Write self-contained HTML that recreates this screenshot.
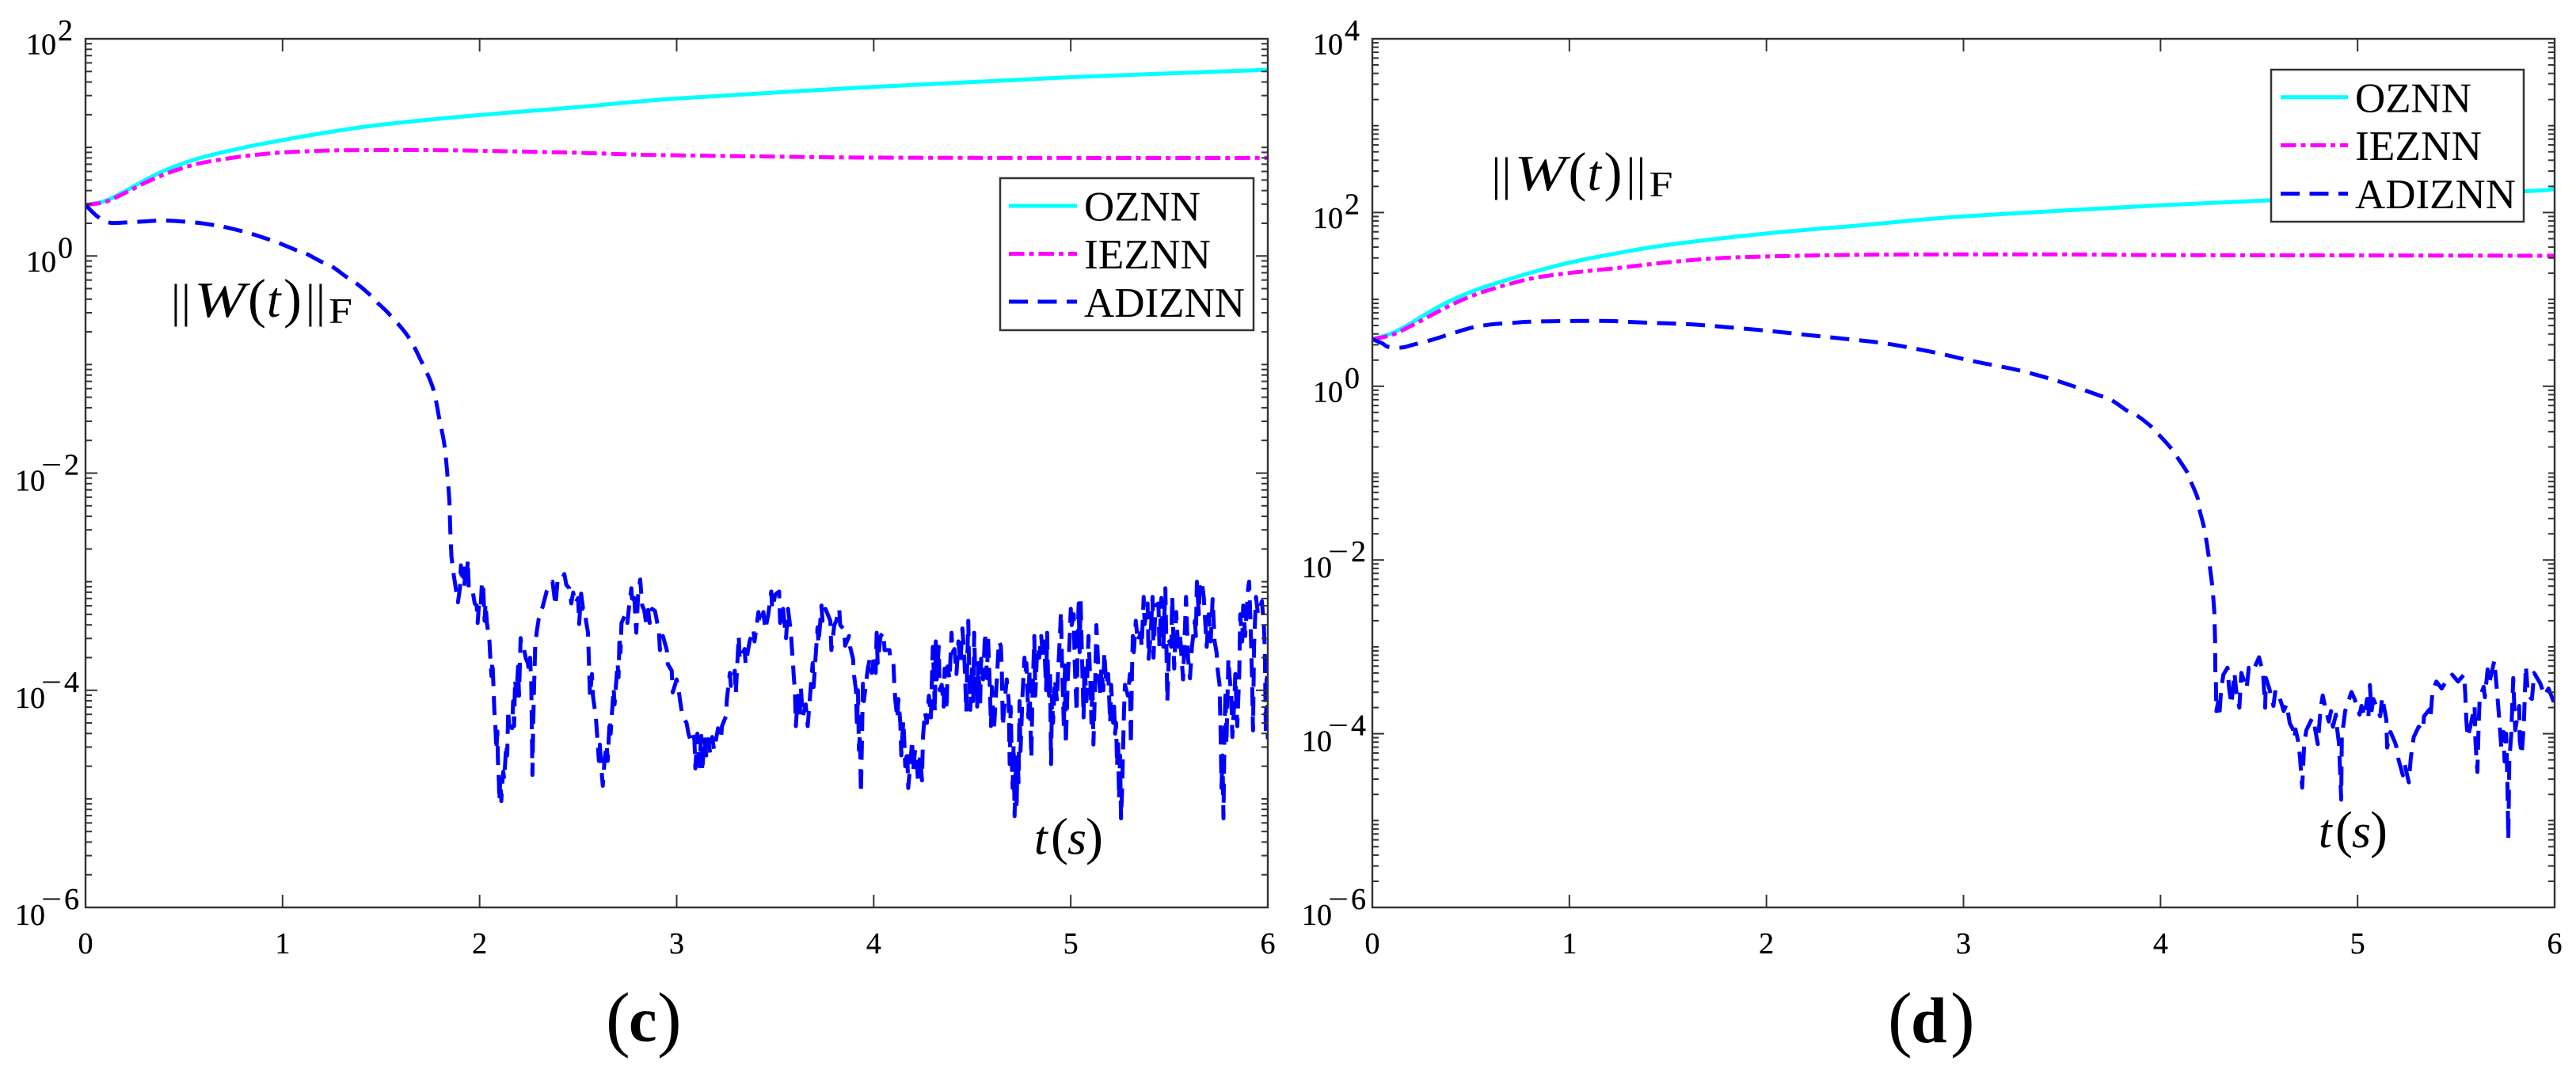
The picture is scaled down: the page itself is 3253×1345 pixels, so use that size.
<!DOCTYPE html>
<html lang="en">
<head>
<meta charset="utf-8">
<title>Frobenius norm of W(t) for OZNN, IEZNN and ADIZNN</title>
<style>
html,body{margin:0;padding:0;background:#fff;width:3253px;height:1345px;overflow:hidden}
svg{display:block}
text{font-family:"Liberation Serif","DejaVu Serif",serif;fill:#000}
.it{font-style:italic}
.leg{font-size:53px}
.box{fill:#fff;stroke:#333;stroke-width:2.5}
</style>
</head>
<body>
<svg id="figure" xmlns="http://www.w3.org/2000/svg" width="3253" height="1345" viewBox="0 0 3253 1345">
<defs>
<clipPath id="clip-c"><rect x="108" y="49" width="1493" height="1097"/></clipPath>
<clipPath id="clip-d"><rect x="1733" y="49" width="1493" height="1097"/></clipPath>
</defs>
<rect x="0" y="0" width="3253" height="1345" fill="#fff"/>

<g id="panel-c"></g>
<g id="panel-d"></g>

<g id="note-c">
<text x="216" y="400" font-size="59">|</text>
<text x="229" y="400" font-size="59">|</text>
<text x="245" y="400" font-size="63" class="it" textLength="65" lengthAdjust="spacingAndGlyphs">W</text>
<text x="313" y="400" font-size="69">(</text>
<text x="337" y="400" font-size="63" class="it">t</text>
<text x="358" y="400" font-size="69">)</text>
<text x="386" y="400" font-size="59">|</text>
<text x="399" y="400" font-size="59">|</text>
<text x="415" y="408" font-size="46" textLength="30" lengthAdjust="spacingAndGlyphs">F</text>
</g>
<g transform="translate(1667.5,-160)">
<text x="216" y="400" font-size="59">|</text>
<text x="229" y="400" font-size="59">|</text>
<text x="245" y="400" font-size="63" class="it" textLength="65" lengthAdjust="spacingAndGlyphs">W</text>
<text x="313" y="400" font-size="69">(</text>
<text x="337" y="400" font-size="63" class="it">t</text>
<text x="358" y="400" font-size="69">)</text>
<text x="386" y="400" font-size="59">|</text>
<text x="399" y="400" font-size="59">|</text>
<text x="415" y="408" font-size="46" textLength="30" lengthAdjust="spacingAndGlyphs">F</text>
</g>

<g>
<text x="1306" y="1078.5" font-size="60" class="it">t</text>
<text x="1327" y="1078.5" font-size="66">(</text>
<text x="1348" y="1078.5" font-size="60" class="it" textLength="24" lengthAdjust="spacingAndGlyphs">s</text>
<text x="1371" y="1078.5" font-size="66">)</text>
</g>
<g transform="translate(1622,-8.5)">
<text x="1306" y="1078.5" font-size="60" class="it">t</text>
<text x="1327" y="1078.5" font-size="66">(</text>
<text x="1348" y="1078.5" font-size="60" class="it" textLength="24" lengthAdjust="spacingAndGlyphs">s</text>
<text x="1371" y="1078.5" font-size="66">)</text>
</g>

<g>
<rect class="box" x="1263" y="225" width="320" height="192"/>
<g>
<line x1="1274" y1="260" x2="1360" y2="260" stroke="#00ffff" stroke-width="5"/>
<text class="leg" x="1369" y="278.4" textLength="147" lengthAdjust="spacingAndGlyphs">OZNN</text>
</g>
<g>
<line x1="1274" y1="320.5" x2="1360" y2="320.5" stroke="#ff00ff" stroke-width="5" stroke-dasharray="19.5 6 6 6"/>
<text class="leg" x="1369" y="339" textLength="160" lengthAdjust="spacingAndGlyphs">IEZNN</text>
</g>
<g>
<line x1="1274" y1="381" x2="1360" y2="381" stroke="#0000ff" stroke-width="5" stroke-dasharray="24 12.5"/>
<text class="leg" x="1369" y="400" textLength="203" lengthAdjust="spacingAndGlyphs">ADIZNN</text>
</g>
</g>

<g>
<rect class="box" x="2868" y="88" width="319" height="192"/>
<g>
<line x1="2880" y1="122.7" x2="2965" y2="122.7" stroke="#00ffff" stroke-width="5"/>
<text class="leg" x="2974" y="141.4" textLength="147" lengthAdjust="spacingAndGlyphs">OZNN</text>
</g>
<g>
<line x1="2880" y1="183.4" x2="2965" y2="183.4" stroke="#ff00ff" stroke-width="5" stroke-dasharray="19.5 6 6 6"/>
<text class="leg" x="2974" y="202" textLength="160" lengthAdjust="spacingAndGlyphs">IEZNN</text>
</g>
<g>
<line x1="2880" y1="244.6" x2="2965" y2="244.6" stroke="#0000ff" stroke-width="5" stroke-dasharray="24 12.5"/>
<text class="leg" x="2974" y="263" textLength="203" lengthAdjust="spacingAndGlyphs">ADIZNN</text>
</g>
</g>

<g>
<text x="765" y="1317" font-size="92">(</text>
<text x="794" y="1315" font-size="80" font-weight="bold">c</text>
<text x="830" y="1317" font-size="92">)</text>
</g>
<g>
<text x="2384" y="1317" font-size="92">(</text>
<text x="2413" y="1316" font-size="82" font-weight="bold">d</text>
<text x="2463" y="1317" font-size="92">)</text>
</g>
</svg>

<script>
// Values are [t in seconds, log10 of the norm].
const xTickValues = [0, 1, 2, 3, 4, 5, 6];
const yExponentsC = [2, 0, -2, -4, -6];
const yExponentsD = [4, 2, 0, -2, -4, -6];

const oznnC = [[0,.469],[.1,.507],[.2,.596],[.3,.697],[.4,.786],[.5,.855],[.6,.912],[.8,.997],[1,1.067],[1.25,1.145],[1.5,1.209],[2,1.298],[2.5,1.371],[3,1.45],[4,1.557],[5,1.646],[6,1.715]];
const ieznnC = [[0,.469],[.1,.498],[.2,.58],[.3,.672],[.4,.751],[.5,.814],[.6,.861],[.8,.918],[1,.953],[1.25,.972],[1.5,.975],[1.75,.975],[2,.969],[2.5,.95],[2.86,.931],[3.5,.915],[4,.906],[5,.903],[6,.903]];
const adiznnC = [[0,.469],[.06,.365],[.12,.308],[.2,.308],[.3,.318],[.4,.327],[.555,.308],[.645,.286],[.697,.27],[.786,.232],[.838,.207],[.929,.153],[.979,.121],[1.063,.058],[1.118,.023],[1.195,-.052],[1.248,-.094],[1.321,-.189],[1.374,-.252],[1.437,-.347],[1.479,-.426],[1.542,-.537],[1.637,-.742],[1.706,-.977],[1.763,-1.216],[1.794,-1.485],[1.821,-1.738],[1.836,-2.007],[1.847,-2.276],[1.851,-2.52],[1.857,-2.77],[1.868,-2.93],[1.879,-3.06],[1.89,-3.19],
[1.9,-3.06],[1.905,-2.85],[1.91,-3],[1.917,-2.88],[1.922,-3.05],[1.93,-2.85],[1.935,-2.96],[1.94,-2.8],[1.945,-3.06],[1.955,-3.1],[1.965,-3.09],[1.975,-3.2],[1.985,-3.22],[1.99,-3.38],[1.997,-3.2],[2.005,-3.24],[2.012,-3],[2.018,-3.05],[2.025,-3.36],[2.03,-3.2],[2.037,-3.38],[2.05,-3.55],[2.055,-3.73],[2.06,-3.87],[2.065,-3.73],[2.07,-3.95],[2.075,-4.2],[2.08,-4.33],[2.085,-4.55],[2.09,-4.38],[2.093,-4.65],[2.098,-4.85],[2.1,-5.02],[2.105,-4.82],[2.11,-5.02],[2.115,-4.85],[2.12,-4.75],[2.125,-4.82],[2.135,-4.5],[2.14,-4.6],[2.145,-4.18],[2.15,-4.33],[2.165,-4.35],[2.17,-4.1],[2.175,-4.33],[2.18,-3.9],[2.187,-4.05],[2.195,-3.78],[2.2,-4.05],[2.208,-3.52],[2.213,-3.62],[2.225,-3.62],[2.235,-3.71],[2.245,-3.75],[2.25,-3.82],[2.256,-3.7],[2.262,-3.93],[2.268,-4.78],[2.272,-4.3],[2.276,-4],[2.282,-3.6],[2.29,-3.46],[2.3,-3.34],[2.32,-3.23],[2.34,-3.09],[2.37,-3],[2.385,-3.22],[2.395,-3],[2.41,-3.01],[2.43,-2.93],[2.44,-3.03],[2.455,-3.06],[2.465,-3.2],[2.475,-3.1],[2.485,-3.2],[2.5,-3.15],[2.505,-3.39],[2.515,-3.11],[2.525,-3.25],[2.535,-3.25],
[2.54,-3.36],[2.55,-3.47],[2.555,-3.75],[2.56,-4.05],[2.57,-3.85],[2.575,-4.05],[2.59,-4.25],[2.595,-4.38],[2.6,-4.5],[2.605,-4.65],[2.61,-4.5],[2.615,-4.65],[2.625,-4.88],[2.635,-4.62],[2.645,-4.5],[2.65,-4.65],[2.66,-4.27],[2.665,-4.4],[2.68,-3.98],[2.685,-4.13],[2.7,-3.75],[2.705,-3.88],[2.71,-3.5],[2.715,-3.65],[2.72,-3.38],[2.74,-3.3],[2.75,-3.38],[2.76,-3.2],[2.77,-3.06],[2.775,-3.22],[2.785,-3.15],[2.795,-3.47],[2.805,-3.1],[2.815,-2.98],[2.825,-3.22],[2.835,-3.26],[2.845,-3.38],[2.855,-3.26],[2.863,-3.38],[2.875,-3.25],[2.89,-3.27],[2.91,-3.46],[2.915,-3.63],[2.93,-3.5],[2.95,-3.63],[2.955,-3.76],[2.975,-3.82],[2.98,-4.02],[3,-3.9],[3.01,-4],[3.02,-4.13],[3.03,-4.24],[3.05,-4.3],[3.06,-4.4],[3.07,-4.46],[3.08,-4.4],[3.09,-4.45],[3.095,-4.72],[3.105,-4.4],[3.115,-4.7],[3.125,-4.42],[3.13,-4.75],[3.14,-4.43],[3.15,-4.6],[3.16,-4.45],[3.17,-4.58],[3.18,-4.43],[3.19,-4.55],[3.21,-4.35],[3.225,-4.45],[3.23,-4.33],[3.25,-4.24],[3.255,-4.08],[3.27,-3.84],[3.275,-3.96],[3.295,-3.82],[3.3,-4.03],[3.315,-3.5],[3.32,-3.72],[3.345,-3.62],[3.35,-3.76],[3.37,-3.55],[3.39,-3.44],[3.395,-3.55],[3.415,-3.28],[3.42,-3.39],[3.44,-3.28],[3.45,-3.44],[3.465,-3.3],[3.48,-3.09],[3.485,-3.25],[3.5,-3.12],[3.52,-3.09],[3.525,-3.38],[3.54,-3.25],[3.555,-3.52],[3.565,-3.25],[3.58,-3.47],[3.585,-3.62],[3.59,-3.75],[3.595,-3.89],[3.6,-4],[3.605,-4.33],[3.615,-4.05],[3.625,-4.25],[3.63,-3.97],[3.64,-4.24],[3.655,-4.13],[3.665,-4.33],[3.675,-4.1],[3.69,-3.75],[3.695,-3.97],[3.715,-3.42],[3.72,-3.57],[3.735,-3.22],[3.74,-3.36],[3.755,-3.25],[3.78,-3.36],[3.785,-3.63],[3.8,-3.4],[3.81,-3.36],[3.825,-3.25],[3.83,-3.4],[3.85,-3.44],[3.855,-3.59],[3.875,-3.5],[3.88,-3.6],[3.895,-3.71],[3.9,-3.86],[3.91,-4],[3.915,-4.35],[3.92,-4],[3.925,-4.55],[3.93,-4.4],[3.935,-4.95],[3.94,-4.5],[3.945,-3.94],[3.95,-4.1],[3.97,-3.8],[3.98,-3.71],[3.99,-3.84],[4,-3.71],[4.01,-3.84],[4.015,-3.47],[4.02,-3.75],[4.035,-3.5],[4.05,-3.47],[4.055,-3.63],[4.08,-3.63],[4.085,-3.72],[4.1,-3.75],[4.105,-3.96],[4.11,-4.1],[4.12,-4.26],[4.125,-4.08],[4.135,-4.3],[4.14,-4.6],[4.15,-4.28],[4.155,-4.46],[4.16,-4.7],[4.17,-4.55],[4.175,-4.9],[4.185,-4.7],[4.195,-4.46],[4.2,-4.75],[4.21,-4.55],[4.22,-4.68],[4.225,-4.85],[4.235,-4.6],[4.245,-4.83],[4.25,-4.43],[4.26,-4.2],[4.27,-4.3],[4.28,-4.05],[4.29,-4.25],[4.3,-3.6],
[4.305,-3.85],[4.31,-4.2],[4.315,-3.55],[4.32,-3.9],[4.33,-3.6],[4.335,-4],[4.345,-3.95],[4.355,-4.15],[4.36,-3.8],[4.37,-4.18],[4.375,-3.78],[4.385,-3.9],[4.395,-3.47],[4.4,-3.65],[4.41,-3.62],[4.42,-3.85],[4.43,-3.55],[4.44,-3.75],[4.45,-3.43],[4.46,-3.7],[4.47,-4.2],[4.475,-3.7],[4.48,-3.36],[4.485,-3.9],[4.49,-4.18],[4.5,-3.75],[4.505,-4.1],[4.51,-3.47],[4.515,-3.85],[4.525,-4.15],[4.53,-3.75],[4.54,-4.13],[4.545,-3.71],[4.555,-3.9],[4.565,-3.47],[4.575,-3.89],[4.58,-3.5],[4.59,-4],[4.595,-4.33],[4.6,-3.97],[4.61,-4.37],[4.625,-3.9],[4.635,-3.55],[4.645,-3.59],[4.65,-3.8],[4.655,-4.33],[4.665,-4.1],[4.675,-3.9],[4.685,-4.1],[4.69,-4.68],[4.695,-4.15],[4.7,-4.6],[4.705,-4.9],[4.71,-4.5],[4.715,-5.16],[4.72,-4.65],[4.725,-5.1],[4.73,-4.6],[4.735,-4.85],[4.74,-4.1],[4.745,-4.56],[4.755,-4.05],[4.765,-3.7],[4.77,-3.85],[4.775,-3.75],[4.785,-4.25],[4.79,-3.8],[4.795,-4.3],[4.8,-4.62],[4.805,-4.1],[4.815,-3.5],[4.82,-4.05],[4.83,-3.6],[4.84,-3.7],[4.85,-3.5],[4.86,-3.71],[4.865,-3.55],[4.875,-4],[4.88,-3.47],[4.885,-3.9],[4.89,-4.05],[4.895,-3.85],[4.9,-4.68],[4.905,-4.05],[4.91,-4.3],[4.92,-3.9],[4.93,-4.1],[4.935,-3.85],[4.945,-3.5],[4.95,-3.28],[4.955,-3.7],[4.965,-4.35],[4.97,-3.75],[4.975,-4.5],[4.985,-3.9],[4.995,-3.5],[5,-3.25],[5.005,-3.4],[5.015,-3.3],[5.02,-3.75],[5.03,-4.2],[5.035,-3.55],[5.04,-3.2],[5.045,-3.65],[5.05,-3.18],[5.055,-3.55],[5.065,-4.25],[5.07,-3.75],[5.08,-4.1],[5.09,-3.5],[5.1,-3.95],[5.105,-4.3],[5.11,-3.9],[5.115,-4.5],[5.125,-3.85],[5.13,-3.4],[5.14,-3.8],[5.15,-4.05],[5.155,-3.8],[5.165,-4],[5.17,-3.65],[5.18,-3.95],[5.19,-3.85],[5.2,-4.3],[5.205,-3.95],[5.215,-4.3],[5.22,-4.15],[5.225,-4.4],[5.23,-4.3],[5.235,-4.7],[5.24,-4.45],[5.245,-5],[5.25,-4.6],[5.255,-5.18],[5.26,-4.95],[5.27,-4.2],[5.275,-3.95],[5.29,-4.05],[5.3,-3.85],[5.305,-4.5],[5.31,-3.9],[5.315,-3.5],[5.32,-3.65],[5.33,-3.36],[5.34,-3.55],[5.355,-3.47],[5.36,-3.6],[5.37,-3.14],[5.375,-3.39],[5.39,-3.2],[5.395,-3.71],[5.405,-3.5],[5.415,-3.14],[5.42,-3.7],[5.43,-3.22],[5.445,-3.2],[5.45,-3.6],[5.46,-3.15],[5.47,-3.6],[5.48,-3.06],[5.485,-3.55],[5.49,-4.1],[5.5,-3.55],[5.51,-3.6],[5.515,-3.14],[5.525,-3.8],[5.535,-3.28],[5.545,-3.6],[5.555,-3.5],[5.57,-3.9],[5.58,-3.4],[5.585,-3.14],[5.595,-3.7],[5.605,-3.89],[5.615,-3.6],[5.63,-3.36],[5.635,-3.5],[5.64,-3],[5.65,-3.3],[5.655,-3],[5.665,-3],[5.675,-3.14],[5.69,-3.6],[5.7,-3.3],[5.71,-3.55],[5.72,-3.16],[5.73,-3.55],[5.74,-3.65],[5.745,-3.8],[5.755,-3.95],[5.76,-4.35],[5.765,-4.9],[5.77,-4.6],[5.775,-5.18],[5.78,-4.4],[5.785,-4],[5.79,-4.5],[5.8,-3.71],[5.805,-3.85],[5.815,-4.05],[5.82,-4.43],[5.83,-4.1],[5.835,-3.85],[5.845,-4.33],[5.855,-3.85],[5.86,-3.3],[5.87,-3.55],[5.875,-3.22],[5.885,-3.5],[5.9,-3.06],[5.905,-3],[5.91,-3.25],[5.915,-3.55],[5.92,-3.9],[5.925,-4.37],[5.93,-3.6],[5.94,-3.14],[5.95,-3.3],[5.97,-3.18],[5.98,-3.4],[5.985,-3.65],[5.99,-4.4],[5.995,-3.7],[6,-4.45]];

const oznnD = [[0,.541],[.1,.612],[.2,.731],[.3,.869],[.4,.988],[.5,1.087],[.6,1.166],[.8,1.304],[1,1.423],[1.25,1.535],[1.5,1.628],[2,1.759],[2.5,1.857],[3,1.956],[4,2.083],[4.56,2.142],[5,2.19],[5.84,2.245],[6,2.272]];
const ieznnD = [[0,.541],[.1,.592],[.2,.699],[.3,.818],[.4,.936],[.5,1.035],[.6,1.114],[.8,1.237],[1,1.304],[1.25,1.363],[1.5,1.427],[1.75,1.474],[2,1.494],[2.5,1.514],[3,1.518],[3.5,1.518],[4,1.51],[5,1.506],[6,1.502]];
const adiznnD = [[0,.541],[.05,.494],[.08,.454],[.15,.446],[.2,.474],[.3,.533],[.4,.604],[.5,.672],[.6,.711],[.7,.727],[.8,.743],[1,.751],[1.2,.751],[1.4,.731],[1.6,.715],[1.8,.68],[2,.64],[2.2,.592],[2.4,.545],[2.6,.494],[2.84,.395],[3.05,.288],[3.27,.189],[3.48,.059],[3.68,-.099],[3.75,-.158],[3.827,-.277],[3.88,-.336],[3.954,-.467],[3.99,-.554],[4.05,-.704],[4.083,-.811],[4.135,-.989],[4.152,-1.087],[4.188,-1.285],[4.198,-1.423],[4.223,-1.65],[4.244,-1.95],[4.25,-2.07],[4.265,-2.35],[4.273,-2.6],[4.277,-2.94],[4.278,-3.26],
[4.281,-3.4],[4.283,-3.74],[4.292,-3.64],[4.298,-3.81],[4.308,-3.48],[4.319,-3.32],[4.34,-3.24],[4.348,-3.48],[4.36,-3.66],[4.375,-3.3],[4.385,-3.52],[4.4,-3.7],[4.41,-3.3],[4.437,-3.48],[4.448,-3.24],[4.469,-3.28],[4.5,-3.12],[4.52,-3.3],[4.531,-3.7],[4.535,-3.36],[4.552,-3.48],[4.573,-3.68],[4.583,-3.5],[4.594,-3.52],[4.615,-3.66],[4.625,-3.74],[4.64,-3.66],[4.656,-3.88],[4.672,-3.95],[4.68,-4.05],[4.685,-3.95],[4.698,-4.08],[4.708,-4.28],[4.719,-4.62],[4.729,-4.12],[4.74,-3.96],[4.77,-3.82],[4.781,-3.9],[4.798,-4.12],[4.812,-3.72],[4.823,-3.56],[4.84,-3.74],[4.854,-3.86],[4.865,-3.74],[4.875,-3.92],[4.89,-3.78],[4.896,-3.94],[4.906,-4.12],[4.917,-4.76],[4.92,-4.04],[4.927,-3.92],[4.937,-3.74],[4.969,-3.52],[4.985,-3.6],[5.01,-3.78],[5.02,-3.68],[5.035,-3.8],[5.048,-3.6],[5.055,-3.8],[5.0625,-3.44],[5.07,-3.75],[5.08,-3.6],[5.115,-3.8],[5.125,-3.58],[5.146,-3.84],[5.15,-4.16],[5.167,-3.98],[5.19,-4.1],[5.198,-4.16],[5.208,-4.3],[5.23,-4.48],[5.24,-4.36],[5.26,-4.56],[5.27,-4.28],[5.285,-4.04],[5.31,-3.92],[5.333,-3.96],[5.337,-3.8],[5.365,-3.72],[5.37,-3.82],[5.38,-3.52],[5.4,-3.4],[5.427,-3.48],[5.448,-3.4],[5.48,-3.32],[5.51,-3.4],[5.54,-3.32],[5.546,-3.52],[5.552,-3.84],[5.558,-4.04],[5.57,-3.94],[5.583,-3.8],[5.594,-3.68],[5.598,-4.08],[5.608,-4.44],[5.615,-3.86],[5.62,-3.58],[5.64,-3.46],[5.646,-3.58],[5.66,-3.26],[5.67,-3.4],[5.694,-3.16],[5.708,-3.52],[5.72,-3.86],[5.73,-4.18],[5.74,-3.98],[5.746,-4.32],[5.754,-4],[5.76,-4.52],[5.765,-5.21],[5.767,-4.88],[5.77,-4.32],[5.78,-4],[5.79,-3.36],[5.8,-3.96],[5.82,-3.68],[5.823,-4.08],[5.833,-4.24],[5.844,-3.88],[5.854,-3.22],[5.865,-3.56],[5.885,-3.6],[5.896,-3.3],[5.927,-3.42],[5.948,-3.56],[5.969,-3.48],[6,-3.66]];

const SVGNS = 'http://www.w3.org/2000/svg';
const AXIS_COLOR = '#333';
const MINOR_MANTISSAS = [2, 3, 4, 5, 6, 7, 8, 9];
const TICK_FONT = '38';
const TEXT_WEIGHT = '0.3';

function makeScales(left, right, top, bottom, xMax, eTop, eBottom) {
  return {
    left: left, right: right, top: top, bottom: bottom, eTop: eTop, eBottom: eBottom,
    x: function (t) { return left + (right - left) * t / xMax; },
    y: function (e) { return top + (bottom - top) * (eTop - e) / (eTop - eBottom); }
  };
}

// Curved segments up to smoothUntil (the smooth part of each curve), straight after it.
function pathFrom(points, s, smoothUntil) {
  const px = points.map(function (p) { return [s.x(p[0]), s.y(p[1])]; });
  let d = 'M' + px[0][0].toFixed(2) + ' ' + px[0][1].toFixed(2);
  for (let i = 1; i < px.length; i++) {
    const cur = px[i];
    if (points[i][0] <= smoothUntil) {
      const a = px[Math.max(i - 2, 0)];
      const b = px[i - 1];
      const c = px[Math.min(i + 1, px.length - 1)];
      d += 'C' + (b[0] + (cur[0] - a[0]) / 6).toFixed(2) + ' ' + (b[1] + (cur[1] - a[1]) / 6).toFixed(2) + ' ' +
           (cur[0] - (c[0] - b[0]) / 6).toFixed(2) + ' ' + (cur[1] - (c[1] - b[1]) / 6).toFixed(2) + ' ' +
           cur[0].toFixed(2) + ' ' + cur[1].toFixed(2);
    } else {
      d += 'L' + cur[0].toFixed(2) + ' ' + cur[1].toFixed(2);
    }
  }
  return d;
}

function drawPanel(panelId, clipId, s, exponents, oznn, ieznn, adiznn, adiznnSmoothUntil) {
  const panel = document.getElementById(panelId);

  const marks = document.createElementNS(SVGNS, 'g');
  
  
  marks.setAttribute('clip-path', 'url(#' + clipId + ')');
  panel.appendChild(marks);

  const oznnLine = document.createElementNS(SVGNS, 'path');
  
  
  oznnLine.setAttribute('d', pathFrom(oznn, s, 6));
  oznnLine.setAttribute('fill', 'none');
  oznnLine.setAttribute('stroke', '#00ffff');
  oznnLine.setAttribute('stroke-width', '5');
  oznnLine.setAttribute('stroke-linejoin', 'round');
  marks.appendChild(oznnLine);

  const ieznnLine = document.createElementNS(SVGNS, 'path');
  
  
  ieznnLine.setAttribute('d', pathFrom(ieznn, s, 6));
  ieznnLine.setAttribute('fill', 'none');
  ieznnLine.setAttribute('stroke', '#ff00ff');
  ieznnLine.setAttribute('stroke-width', '5');
  ieznnLine.setAttribute('stroke-dasharray', '19.5 6 6 6');
  marks.appendChild(ieznnLine);

  const adiznnLine = document.createElementNS(SVGNS, 'path');
  
  
  adiznnLine.setAttribute('d', pathFrom(adiznn, s, adiznnSmoothUntil));
  adiznnLine.setAttribute('fill', 'none');
  adiznnLine.setAttribute('stroke', '#0000ff');
  adiznnLine.setAttribute('stroke-width', '5');
  adiznnLine.setAttribute('stroke-dasharray', '24 12.6');
  adiznnLine.setAttribute('stroke-linejoin', 'round');
  marks.appendChild(adiznnLine);

  const frame = document.createElementNS(SVGNS, 'rect');
  
  
  frame.setAttribute('x', s.left);
  frame.setAttribute('y', s.top);
  frame.setAttribute('width', s.right - s.left);
  frame.setAttribute('height', s.bottom - s.top);
  frame.setAttribute('fill', 'none');
  frame.setAttribute('stroke', AXIS_COLOR);
  frame.setAttribute('stroke-width', '2.4');
  panel.appendChild(frame);

  xTickValues.forEach(function (t) {
    const px = s.x(t);
    if (t > 0 && t < 6) {
      [[s.bottom, s.bottom - 16], [s.top, s.top + 16]].forEach(function (seg) {
        const tick = document.createElementNS(SVGNS, 'line');
        
        
        tick.setAttribute('x1', px);
        tick.setAttribute('x2', px);
        tick.setAttribute('y1', seg[0]);
        tick.setAttribute('y2', seg[1]);
        tick.setAttribute('stroke', AXIS_COLOR);
        tick.setAttribute('stroke-width', '2');
        panel.appendChild(tick);
      });
    }
    const label = document.createElementNS(SVGNS, 'text');
    
    
    label.setAttribute('x', px);
    label.setAttribute('y', 1204);
    label.setAttribute('font-size', TICK_FONT);
    label.setAttribute('stroke', '#000');
    label.setAttribute('stroke-width', TEXT_WEIGHT);
    label.setAttribute('text-anchor', 'middle');
    label.textContent = String(t);
    panel.appendChild(label);
  });

  // y ticks: labelled even decades are long; odd decades and 2..9 multiples are short.
  function yTick(e, len) {
    [[s.left, s.left + len], [s.right, s.right - len]].forEach(function (seg) {
      const tick = document.createElementNS(SVGNS, 'line');
      
      
      tick.setAttribute('x1', seg[0]);
      tick.setAttribute('x2', seg[1]);
      tick.setAttribute('y1', s.y(e));
      tick.setAttribute('y2', s.y(e));
      tick.setAttribute('stroke', AXIS_COLOR);
      tick.setAttribute('stroke-width', '2');
      panel.appendChild(tick);
    });
  }
  for (let d = s.eBottom; d <= s.eTop; d++) {
    if (d > s.eBottom && d < s.eTop) yTick(d, exponents.indexOf(d) >= 0 ? 15 : 8);
    if (d < s.eTop) MINOR_MANTISSAS.forEach(function (m) { yTick(d + Math.log10(m), 8); });
  }

  exponents.forEach(function (e) {
    const tickY = s.y(e);
    const negative = e < 0;
    const base = document.createElementNS(SVGNS, 'text');
    
    
    base.setAttribute('x', s.left - (negative ? 51 : 37));
    base.setAttribute('y', tickY + (negative ? 22 : 19.6));
    base.setAttribute('font-size', TICK_FONT);
    base.setAttribute('stroke', '#000');
    base.setAttribute('stroke-width', TEXT_WEIGHT);
    base.setAttribute('text-anchor', 'end');
    base.textContent = '10';
    panel.appendChild(base);

    if (negative) {
      const minus = document.createElementNS(SVGNS, 'text');
      
      
      minus.setAttribute('x', s.left - 56);
      minus.setAttribute('y', tickY + 2);
      minus.setAttribute('font-size', TICK_FONT);
      minus.setAttribute('textLength', '26');
      minus.setAttribute('lengthAdjust', 'spacingAndGlyphs');
      minus.textContent = '\u2212';
      panel.appendChild(minus);
    }
    const power = document.createElementNS(SVGNS, 'text');
    
    
    power.setAttribute('x', s.left - (negative ? 27 : 35));
    power.setAttribute('y', tickY + 2);
    power.setAttribute('font-size', TICK_FONT);
    power.setAttribute('stroke', '#000');
    power.setAttribute('stroke-width', TEXT_WEIGHT);
    power.textContent = String(Math.abs(e));
    panel.appendChild(power);
  });
}

drawPanel('panel-c', 'clip-c', makeScales(108, 1601, 49, 1146, 6, 2, -6), yExponentsC, oznnC, ieznnC, adiznnC, 1.85);
drawPanel('panel-d', 'clip-d', makeScales(1733, 3226, 49, 1146, 6, 4, -6), yExponentsD, oznnD, ieznnD, adiznnD, 4.27);
</script>
</body>
</html>
